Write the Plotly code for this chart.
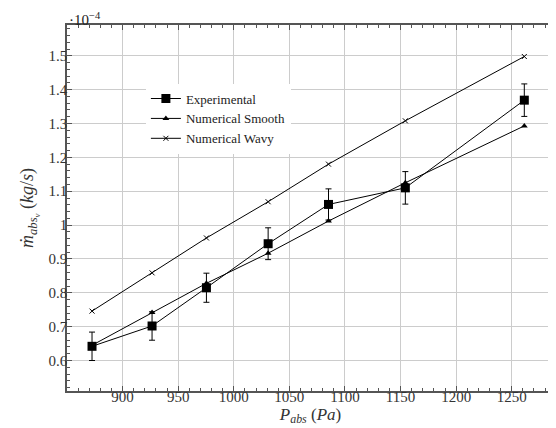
import plotly.graph_objects as go

pressure = [872.5, 926.5, 975.4, 1030.9, 1085.2, 1154.3, 1261.3]
experimental = [0.642, 0.702, 0.815, 0.945, 1.061, 1.110, 1.369]
experimental_err = [0.042, 0.042, 0.043, 0.047, 0.046, 0.048, 0.048]
numerical_smooth = [0.645, 0.742, 0.828, 0.917, 1.012, 1.125, 1.293]
numerical_wavy = [0.746, 0.859, 0.962, 1.069, 1.180, 1.308, 1.498]

y_ticks = [0.6, 0.7, 0.8, 0.9, 1.0, 1.1, 1.2, 1.3, 1.4, 1.5]
y_tick_labels = ["0.6", "0.7", "0.8", "0.9", "1", "1.1", "1.2", "1.3", "1.4", "1.5"]
x_ticks = [900, 950, 1000, 1050, 1100, 1150, 1200, 1250]

FONT = "Times New Roman, Liberation Serif, DejaVu Serif, serif"

fig = go.Figure()
fig.add_trace(go.Scatter(
    x=pressure, y=experimental, name="Experimental", mode="lines+markers",
    line=dict(color="black", width=1),
    marker=dict(symbol="square", size=9, color="black"),
    error_y=dict(type="data", array=experimental_err, visible=True,
                 color="black", thickness=1, width=3),
))
fig.add_trace(go.Scatter(
    x=pressure, y=numerical_smooth, name="Numerical Smooth", mode="lines+markers",
    line=dict(color="black", width=1),
    marker=dict(symbol="triangle-up", size=6, color="black"),
))
fig.add_trace(go.Scatter(
    x=pressure, y=numerical_wavy, name="Numerical Wavy", mode="lines+markers",
    line=dict(color="black", width=1),
    marker=dict(symbol="x-thin", size=5, color="black", line=dict(color="black", width=1)),
))

fig.update_layout(
    width=548, height=420,
    margin=dict(l=59, r=0, t=17, b=37),
    plot_bgcolor="white", paper_bgcolor="white",
    font=dict(family=FONT, size=15, color="#333333"),
    showlegend=True,
    legend=dict(x=0.162, y=0.84, xanchor="left", yanchor="top",
                bgcolor="white", borderwidth=0,
                font=dict(family=FONT, size=13, color="#222222"),
                itemwidth=30, tracegroupgap=0),
    xaxis=dict(
        range=[850, 1288], tickvals=x_ticks,
        showgrid=True, gridcolor="#cccccc", gridwidth=1.2,
        showline=True, linecolor="#555555", linewidth=1.5, mirror="allticks",
        ticks="inside", ticklen=5, tickcolor="#555555",
        ticklabelstandoff=-9,
        minor=dict(dtick=10, ticks="inside", ticklen=3, tickcolor="#555555", showgrid=False),
        zeroline=False,
        title=dict(text="<i>P<sub>abs</sub></i> (<i>Pa</i>)", standoff=4,
                   font=dict(family=FONT, size=17)),
    ),
    yaxis=dict(
        range=[0.51, 1.591], tickvals=y_ticks, ticktext=y_tick_labels,
        showgrid=True, gridcolor="#cccccc", gridwidth=1.2,
        showline=True, linecolor="#555555", linewidth=1.5, mirror="allticks",
        ticks="inside", ticklen=5, tickcolor="#555555",
        ticklabelstandoff=-5,
        minor=dict(dtick=0.02, ticks="inside", ticklen=3, tickcolor="#555555", showgrid=False),
        zeroline=False,
        title=dict(text="<i>ṁ<sub>abs<sub>v</sub></sub></i> (<i>kg</i>/<i>s</i>)", standoff=10,
                   font=dict(family=FONT, size=18)),
    ),
    annotations=[dict(text="·10<sup>−4</sup>", x=0, y=1.0, xref="paper", yref="paper",
                      xanchor="left", yanchor="bottom", showarrow=False, yshift=-5,
                      font=dict(family=FONT, size=15, color="#222222"))],
)

fig.write_html("out.html")
